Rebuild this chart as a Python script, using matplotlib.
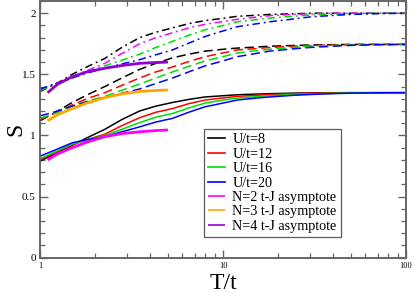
import matplotlib
matplotlib.use("Agg")
import matplotlib.pyplot as plt
from matplotlib.ticker import FixedLocator, NullFormatter, MultipleLocator, LogLocator

plt.rcParams['font.family'] = ['Liberation Serif', 'DejaVu Serif']

# Temperature grid (T/t)
T = [1, 1.25, 1.5, 1.8, 2.26, 2.8, 3.5, 4.3, 5.3, 6.5, 8, 10, 12, 15, 18, 24, 30, 40, 50, 70, 100]

# Solid curves
s_u8 = [0.79, 0.86, 0.92, 0.98, 1.05, 1.13, 1.20, 1.24, 1.27, 1.295, 1.315, 1.325, 1.333, 1.338, 1.342, 1.346, 1.348, 1.35, 1.35, 1.35, 1.35]
s_u12 = [0.80, 0.87, 0.925, 0.965, 1.01, 1.08, 1.145, 1.19, 1.22, 1.26, 1.29, 1.307, 1.32, 1.328, 1.335, 1.342, 1.345, 1.348, 1.35, 1.35, 1.35]
s_u16 = [0.81, 0.875, 0.93, 0.965, 1.00, 1.05, 1.105, 1.15, 1.18, 1.225, 1.265, 1.29, 1.305, 1.317, 1.325, 1.335, 1.34, 1.345, 1.348, 1.35, 1.35]
s_u20 = [0.83, 0.89, 0.94, 0.965, 0.99, 1.03, 1.07, 1.11, 1.14, 1.19, 1.235, 1.265, 1.29, 1.305, 1.315, 1.328, 1.335, 1.342, 1.346, 1.349, 1.35]

# Dashed curves
d_u8 = [1.12, 1.20, 1.27, 1.33, 1.40, 1.47, 1.54, 1.59, 1.635, 1.665, 1.69, 1.705, 1.715, 1.723, 1.73, 1.736, 1.74, 1.743, 1.745, 1.745, 1.745]
d_u12 = [1.13, 1.19, 1.25, 1.30, 1.35, 1.41, 1.47, 1.52, 1.56, 1.605, 1.645, 1.675, 1.70, 1.71, 1.72, 1.73, 1.735, 1.74, 1.743, 1.745, 1.745]
d_u16 = [1.14, 1.19, 1.24, 1.28, 1.32, 1.37, 1.42, 1.47, 1.52, 1.565, 1.61, 1.645, 1.675, 1.693, 1.705, 1.72, 1.73, 1.737, 1.74, 1.744, 1.745]
d_u20 = [1.16, 1.20, 1.24, 1.275, 1.31, 1.345, 1.38, 1.425, 1.47, 1.52, 1.57, 1.61, 1.645, 1.67, 1.69, 1.708, 1.72, 1.73, 1.737, 1.742, 1.745]

# Dash-dot curves
dd_u8 = [1.36, 1.43, 1.50, 1.56, 1.63, 1.72, 1.80, 1.845, 1.88, 1.915, 1.94, 1.958, 1.975, 1.983, 1.99, 1.995, 2.0, 2.0, 2.0, 2.0, 2.0]
dd_u12 = [1.37, 1.43, 1.48, 1.53, 1.59, 1.67, 1.75, 1.80, 1.84, 1.88, 1.91, 1.932, 1.95, 1.967, 1.98, 1.99, 1.995, 2.0, 2.0, 2.0, 2.0]
dd_u16 = [1.37, 1.42, 1.47, 1.52, 1.57, 1.615, 1.665, 1.72, 1.77, 1.82, 1.865, 1.90, 1.93, 1.947, 1.96, 1.975, 1.985, 1.992, 1.995, 2.0, 2.0]
dd_u20 = [1.38, 1.43, 1.47, 1.51, 1.55, 1.585, 1.62, 1.66, 1.70, 1.755, 1.81, 1.855, 1.89, 1.912, 1.93, 1.952, 1.97, 1.982, 1.99, 1.996, 2.0]

# t-J asymptotes
T_asym = [1.1, 1.25, 1.5, 1.8, 2.26, 2.8, 3.5, 4.3, 5.0]
asym_n2 = [0.80, 0.85, 0.90, 0.945, 0.99, 1.015, 1.03, 1.04, 1.045]
asym_n3 = [1.12, 1.17, 1.22, 1.265, 1.31, 1.34, 1.36, 1.368, 1.372]
asym_n4 = [1.35, 1.42, 1.48, 1.52, 1.55, 1.572, 1.59, 1.597, 1.60]

labels = ["U/t=8", "U/t=12", "U/t=16", "U/t=20",
          "N=2 t-J asymptote", "N=3 t-J asymptote", "N=4 t-J asymptote"]
c_black, c_red, c_green, c_blue = 'black', 'red', '#00dd00', 'blue'
c_mag, c_orange, c_purple = '#ff00ff', '#ffa500', '#9400d3'

fig = plt.figure(figsize=(4.15, 2.93), dpi=100)
ax = fig.add_axes([40/415, 1-257.7/293, 366/415, 256.7/293])

lw = 1.1
dash = (0, (6, 3))
dashdot = (0, (5, 2.5, 1.2, 2.5))

h1, = ax.plot(T, s_u8, color=c_black, lw=lw)
h2, = ax.plot(T, s_u12, color=c_red, lw=lw)
h3, = ax.plot(T, s_u16, color=c_green, lw=lw)
h4, = ax.plot(T, s_u20, color=c_blue, lw=lw)

ax.plot(T, d_u8, color=c_black, lw=lw, ls=dash)
ax.plot(T, d_u12, color=c_red, lw=lw, ls=dash)
ax.plot(T, d_u16, color=c_green, lw=lw, ls=dash)
ax.plot(T, d_u20, color=c_blue, lw=lw, ls=dash)

ax.plot(T, dd_u8, color=c_black, lw=lw, ls=dashdot)
ax.plot(T, dd_u12, color=c_mag, lw=lw, ls=dashdot)
ax.plot(T, dd_u16, color=c_green, lw=lw, ls=dashdot)
ax.plot(T, dd_u20, color=c_blue, lw=lw, ls=dashdot)

h5, = ax.plot(T_asym, asym_n2, color=c_mag, lw=2.0, solid_capstyle='butt')
h6, = ax.plot(T_asym, asym_n3, color=c_orange, lw=2.0, solid_capstyle='butt')
h7, = ax.plot(T_asym, asym_n4, color=c_purple, lw=2.0, solid_capstyle='butt')

ax.set_xscale('log')
ax.set_xlim(1, 100)
ax.set_ylim(0, 2.1)

ax.xaxis.set_major_locator(FixedLocator([1, 10, 100]))
ax.xaxis.set_minor_locator(LogLocator(base=10, subs=range(2, 10)))
ax.xaxis.set_minor_formatter(NullFormatter())
ax.set_xticklabels(['1', '10', '100'])
ax.yaxis.set_major_locator(FixedLocator([0, 0.5, 1, 1.5, 2]))
ax.set_yticklabels(['0', '0.5', '1', '1.5', '2'])
ax.yaxis.set_minor_locator(MultipleLocator(0.1))

spine_c = '#666666'
for s in ax.spines.values():
    s.set_color(spine_c)
    s.set_linewidth(1.4)
ax.tick_params(which='both', direction='in', top=True, right=True, color=spine_c)
ax.tick_params(which='major', length=6, width=1.0)
ax.tick_params(which='minor', length=3.5, width=0.9)
ax.tick_params(axis='y', labelsize=8, pad=3)
ax.tick_params(axis='x', labelsize=6, pad=3)

ax.set_xlabel('T/t', fontsize=17)
ax.xaxis.set_label_coords(0.5, -0.06)
ax.xaxis.label.set_va('top')
ax.set_ylabel('S', fontsize=17)
ax.yaxis.label.set_va('baseline')
ax.yaxis.set_label_coords(-0.05, 0.5)

leg = ax.legend([h1, h2, h3, h4, h5, h6, h7], labels,
                loc='upper left', bbox_to_anchor=(0.448, 0.501),
                fontsize=10.2, frameon=True, fancybox=False,
                handlelength=1.2, handletextpad=0.5, labelspacing=0.1,
                borderpad=0.3, borderaxespad=0)
leg.get_frame().set_edgecolor('#333333')
leg.get_frame().set_linewidth(0.9)
for l in leg.get_lines():
    l.set_linewidth(1.2)

fig.savefig('out.png', dpi=100)
